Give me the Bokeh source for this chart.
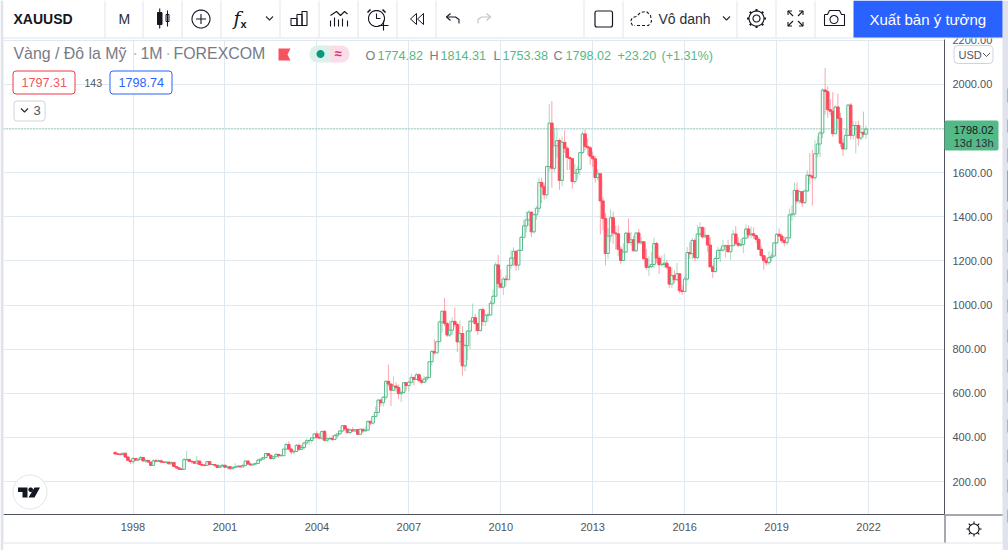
from bokeh.plotting import figure
from bokeh.models import FixedTicker, Span, Range1d
from bokeh.layouts import column
from bokeh.core.properties import value
from bokeh.embed import file_html
from bokeh.resources import INLINE
import math

# ---------- data (monthly candles, Jun 1997 .. Dec 2021) ----------
opens = [
 332,325,324,322,328,311,296,
 290,304,297,301,309,293,296,288,273,294,292,294,
 288,287,288,280,286,268,262,256,255,299,300,292,
 290,283,293,277,274,273,290,277,277,274,264,270,
 274,265,267,258,264,266,270,266,273,293,279,275,
 279,282,297,302,309,327,318,304,312,323,317,317,
 347,368,347,334,336,364,346,354,375,385,386,398,
 416,400,397,427,387,394,395,391,408,416,429,453,
 438,422,434,429,435,414,437,429,433,473,465,495,
 513,569,557,582,654,642,614,633,626,598,604,648,
 635,650,672,663,684,658,650,665,672,743,790,783,
 834,923,972,916,864,886,926,912,833,871,724,816,
 882,927,943,916,884,979,926,954,955,1008,1040,1182,
 1097,1081,1118,1115,1180,1213,1244,1181,1248,1307,1359,1386,
 1421,1332,1410,1439,1556,1536,1500,1628,1825,1620,1722,1746,
 1565,1738,1711,1669,1664,1560,1598,1615,1691,1776,1719,1713,
 1675,1663,1578,1595,1472,1393,1234,1313,1396,1327,1323,1253,
 1202,1240,1326,1284,1296,1246,1327,1282,1287,1210,1171,1175,
 1184,1279,1213,1183,1184,1190,1172,1095,1134,1115,1142,1065,
 1061,1118,1238,1233,1293,1215,1322,1351,1309,1316,1272,1173,
 1152,1211,1248,1249,1268,1269,1242,1269,1322,1280,1271,1275,
 1303,1345,1318,1323,1315,1298,1253,1224,1201,1192,1215,1222,
 1282,1321,1313,1292,1283,1305,1409,1413,1520,1472,1514,1464,
 1517,1589,1585,1577,1686,1730,1780,1975,1968,1886,1879,1777,
 1898,1847,1734,1708,1769,1907,1770,1814,1814,1757,1783,1774.82,
]
closes = [
 325,324,322,328,311,296,290,
 304,297,301,309,293,296,288,273,294,292,294,288,
 287,288,280,286,268,262,256,255,299,300,292,290,
 283,293,277,274,273,290,277,277,274,264,270,274,
 265,267,258,264,266,270,266,273,293,279,275,279,
 282,297,302,309,327,318,304,312,323,317,317,347,
 368,347,334,336,364,346,354,375,385,386,398,416,
 400,397,427,387,394,395,391,408,416,429,453,438,
 422,434,429,435,414,437,429,433,473,465,495,513,
 569,557,582,654,642,614,633,626,598,604,648,635,
 650,672,663,684,658,650,665,672,743,790,783,834,
 923,972,916,864,886,926,912,833,871,724,816,882,
 927,943,916,884,979,926,954,955,1008,1040,1182,1097,
 1081,1118,1115,1180,1213,1244,1181,1248,1307,1359,1386,1421,
 1332,1410,1439,1556,1536,1500,1628,1825,1620,1722,1746,1565,
 1738,1711,1669,1664,1560,1598,1615,1691,1776,1719,1713,1675,
 1663,1578,1595,1472,1393,1234,1313,1396,1327,1323,1253,1202,
 1240,1326,1284,1296,1246,1327,1282,1287,1210,1171,1175,1184,
 1279,1213,1183,1184,1190,1172,1095,1134,1115,1142,1065,1061,
 1118,1238,1233,1293,1215,1322,1351,1309,1316,1272,1173,1152,
 1211,1248,1249,1268,1269,1242,1269,1322,1280,1271,1275,1303,
 1345,1318,1323,1315,1298,1253,1224,1201,1192,1215,1222,1282,
 1321,1313,1292,1283,1305,1409,1413,1520,1472,1514,1464,1517,
 1589,1585,1577,1686,1730,1780,1975,1968,1886,1879,1777,1898,
 1847,1734,1708,1769,1907,1770,1814,1814,1757,1783,1774.82,1798.02,
]
highs = [
 335,330,330,332,330,315,298,
 310,305,303,316,310,301,298,289,301,303,300,299,
 293,292,290,292,289,268,264,261,307,339,300,293,
 292,316,293,290,278,292,291,280,278,274,272,277,
 272,268,269,268,283,275,270,278,294,293,285,280,
 285,303,304,311,328,330,324,315,330,325,325,349,
 376,382,352,342,370,373,366,376,395,392,399,417,
 428,421,431,434,398,403,410,415,418,432,455,457,
 430,440,446,437,437,441,432,448,477,475,497,540,
 575,575,587,660,730,640,676,650,640,611,649,650,
 655,690,670,692,690,672,680,677,745,795,845,838,
 930,975,1033,925,930,945,988,920,930,905,825,885,
 930,1007,960,920,985,990,960,965,1020,1070,1195,1227,
 1162,1128,1135,1180,1249,1262,1200,1252,1315,1388,1425,1431,
 1425,1412,1448,1576,1577,1552,1632,1911,1925,1804,1804,1755,
 1764,1792,1720,1674,1668,1640,1630,1695,1790,1796,1755,1722,
 1696,1675,1615,1597,1488,1417,1348,1433,1424,1361,1361,1268,
 1280,1332,1392,1332,1315,1326,1345,1310,1288,1255,1220,1239,
 1307,1287,1224,1225,1233,1205,1175,1170,1157,1191,1142,1089,
 1128,1263,1284,1304,1303,1362,1375,1358,1352,1318,1307,1182,
 1220,1264,1261,1295,1275,1296,1270,1340,1358,1306,1299,1307,
 1366,1361,1356,1352,1318,1309,1265,1219,1214,1243,1237,1284,
 1326,1347,1324,1310,1306,1438,1452,1555,1557,1518,1516,1524,
 1611,1689,1703,1747,1765,1789,1984,2075,1992,1933,1965,1906,
 1959,1872,1755,1798,1912,1916,1834,1833,1836,1814,1877,1814.31,
]
lows = [
 322,320,318,318,306,292,280,
 278,292,292,300,292,284,285,272,272,290,288,283,
 285,282,278,278,267,256,252,251,254,296,288,281,
 280,283,276,271,269,272,276,273,265,263,263,268,
 262,255,255,255,263,265,265,265,270,278,270,272,
 277,282,290,300,307,315,300,298,312,307,315,316,
 341,340,323,323,334,339,343,345,367,366,374,395,
 392,392,389,381,376,390,384,387,396,411,424,428,
 416,413,424,425,412,414,417,428,432,456,457,490,
 514,540,540,570,632,543,610,608,573,560,605,612,
 608,645,636,660,650,640,645,650,670,725,776,781,
 833,875,905,855,855,865,900,787,740,681,700,750,
 800,920,880,865,880,905,905,925,952,1000,1045,1075,
 1075,1045,1085,1113,1165,1175,1155,1158,1245,1315,1330,1359,
 1308,1325,1386,1420,1462,1478,1482,1605,1532,1604,1670,1523,
 1538,1690,1612,1613,1527,1550,1570,1590,1685,1700,1680,1636,
 1626,1555,1565,1321,1338,1180,1208,1285,1277,1251,1221,1187,
 1222,1238,1277,1268,1243,1241,1281,1274,1207,1160,1132,1167,
 1167,1190,1141,1176,1169,1162,1077,1077,1099,1108,1053,1046,
 1062,1111,1209,1208,1199,1208,1311,1301,1304,1241,1171,1123,
 1146,1214,1195,1240,1214,1236,1205,1269,1271,1262,1264,1236,
 1303,1303,1303,1301,1281,1250,1211,1160,1180,1182,1196,1221,
 1276,1310,1281,1266,1273,1300,1382,1400,1459,1459,1445,1459,
 1517,1548,1451,1567,1670,1671,1757,1863,1849,1860,1764,1777,
 1803,1717,1677,1707,1766,1750,1750,1688,1722,1746,1761,1753.38,
]
year_tick_pos = [7, 43, 79, 115, 151, 187, 223, 259, 295]
year_tick_lab = ["1998", "2001", "2004", "2007", "2010", "2013", "2016", "2019", "2022"]
price_ticks = [200, 400, 600, 800, 1000, 1200, 1400, 1600, 1800, 2000, 2200]
last_price = 1798.02

UP, DOWN = "#53b987", "#ff4a5e"
TXT, DARK, LINE, GRID = "#787b86", "#131722", "#e0e3eb", "#e1e9f0"
AXIS = "#50535e"
FONT = "Liberation Sans"

# ---------- chart ----------
PX_MONTH = 2.554
x_start = 7 - (132.5 - 3) / PX_MONTH
x_end = 7 + (944 - 132.5) / PX_MONTH
PX_USD = 0.22056
y_end = 2000 + (84 - 39) / PX_USD
y_start = 200 - (514 - 481) / PX_USD

p = figure(width=1008, height=550, x_range=Range1d(x_start, x_end), y_range=Range1d(y_start, y_end),
           output_backend="svg", toolbar_location=None, y_axis_location="right", frame_align=False,
           min_border_left=3, min_border_right=64, min_border_top=39, min_border_bottom=36)
p.outline_line_color = None
p.xaxis.ticker = FixedTicker(ticks=year_tick_pos)
p.xaxis.major_label_overrides = dict(zip(year_tick_pos, year_tick_lab))
p.yaxis.ticker = FixedTicker(ticks=price_ticks)
p.yaxis.major_label_overrides = {v: f"{v:.2f}" for v in price_ticks}
for ax in (p.xaxis, p.yaxis):
    ax.axis_line_color = AXIS
    ax.axis_line_width = 1
    ax.major_tick_line_color = None
    ax.minor_tick_line_color = None
    ax.major_tick_out = 0
    ax.major_tick_in = 0
    ax.major_label_text_font = FONT
    ax.major_label_text_font_size = "11px"
    ax.major_label_text_color = AXIS
p.yaxis.major_label_standoff = 8
p.xaxis.major_label_standoff = 8
p.xgrid.ticker = FixedTicker(ticks=year_tick_pos)
p.ygrid.ticker = FixedTicker(ticks=price_ticks)
p.grid.grid_line_color = GRID
p.grid.grid_line_width = 1

idx = list(range(len(closes)))
colors = [UP if closes[i] >= opens[i] else DOWN for i in idx]
fills = ["#ffffff" if closes[i] >= opens[i] else DOWN for i in idx]
p.segment(idx, lows, idx, highs, line_color=colors, line_alpha=0.5, line_width=1)
p.add_layout(Span(location=last_price, dimension="width", line_color=UP, line_dash="1 2", line_width=1))
p.vbar(idx, width=1.0, bottom=[min(a, b) for a, b in zip(opens, closes)], top=[max(a, b) for a, b in zip(opens, closes)],
       fill_color=fills, line_color=colors, line_width=1)

# ---------- interface chrome: transparent layer in page pixels ----------
c = figure(width=1008, height=550, x_range=Range1d(0, 1008), y_range=Range1d(550, 0),
           output_backend="svg", toolbar_location=None, min_border=0, frame_align=False,
           background_fill_color=None, border_fill_color=None,
           styles={"position": "absolute", "left": "0px", "top": "0px"})
c.axis.visible = False
c.grid.visible = False
c.outline_line_color = None

def box(l, r, t_, b, fill=None, line=None, radius=0, lw=1):
    c.quad(left=[l], right=[r], top=[t_], bottom=[b], fill_color=fill, fill_alpha=1 if fill else 0,
           line_color=line, line_alpha=1 if line else 0, line_width=lw, border_radius=radius)

def t(x, y, s, size="14px", color=DARK, style="normal", align="left", font=FONT):
    c.text(x=[x], y=[y], text=[s], text_font=value(font), text_font_size=value(size), text_color=color,
           text_font_style=style, text_align=align, text_baseline="middle")

def pl(xs, ys, w=1.1, col=DARK, dash="solid"):
    c.line(xs, ys, line_color=col, line_width=w, line_dash=dash)

def poly(xs, ys, fill=None, line=None, lw=1):
    c.patch(xs, ys, fill_color=fill, fill_alpha=1 if fill else 0, line_color=line, line_alpha=1 if line else 0, line_width=lw)

def circ(cx, cy, r, n=40):
    a = [2 * math.pi * i / n for i in range(n + 1)]
    return [cx + r * math.cos(v) for v in a], [cy + r * math.sin(v) for v in a]

def chev(cx, cy, col="#2a2e39", w=1.1):
    pl([cx - 3.5, cx, cx + 3.5], [cy - 2, cy + 1.5, cy - 2], w, col)

# page strips and frame lines
box(0, 3, 0, 550, "#e0e3eb")
box(1002, 1008, 0, 550, "#e0e3eb")
box(3, 1002, 0, 37, "#ffffff")
box(3, 1002, 37, 38, LINE)
box(3, 1002, 543, 550, "#ffffff")
box(3, 1002, 542, 543, LINE)
box(945, 1002, 514, 515, AXIS)
box(944, 945, 514, 542, AXIS)
for a_, b_ in [(88, 102), (119, 132), (148, 162), (209, 222), (239, 252), (269, 282), (299, 312), (329, 342),
               (359, 372), (389, 402), (419, 432), (449, 462), (479, 492), (509, 522)]:
    box(1007, 1008, a_, b_, "#f7525f")
box(1007, 1008, 170, 201, "#2962ff")

# toolbar
box(853, 1002, 0, 37, "#2962ff")
for s_ in [104, 142, 181, 220, 279, 318, 357, 396, 435, 583, 622, 736, 775, 814]:
    box(s_, s_ + 1, 0, 37, LINE)
t(13, 18.5, "XAUUSD", "14px", DARK, "bold")
t(118, 18.5, "M", "14px", "#2a2e39")
t(658, 18, "Vô danh", "14px", "#2a2e39")
t(869, 19, "Xuất bản ý tưởng", "15px", "#ffffff")
t(233, 17, "f", "19px", DARK, "italic", font="DejaVu Serif")
t(240, 23, "x", "11px", DARK, "bold")
# candle icon
box(157, 161.5, 12, 24, DARK, DARK)
box(165.5, 168.5, 14, 21, "#ffffff", DARK)
pl([159.2, 159.2], [8, 28]); pl([167, 167], [10, 26])
# circled plus
pl(*circ(200.5, 18.5, 9)); pl([195.5, 205.5], [18.5, 18.5]); pl([200.5, 200.5], [13.5, 23.5])
chev(269, 18)
# bars
pl([290.5, 290.5, 296.5, 296.5, 290.5], [25, 18, 18, 25, 25]); pl([296.5, 296.5, 301.5, 301.5, 296.5], [25, 14, 14, 25, 25])
pl([301.5, 301.5, 306.5, 306.5, 301.5], [25, 11, 11, 25, 25])
# indicators
pl([330, 336, 340, 344, 347], [15, 11, 15, 11, 13.5])
for x_, y_ in zip([330, 334, 338, 342, 347], [20, 17, 19, 18, 20]):
    pl([x_, x_], [y_, 26])
# alarm
pl(*circ(376, 18, 8)); pl([376, 376, 380], [13, 18, 18]); pl([367, 370], [12, 9], 1.6); pl([382, 385], [9, 12], 1.6)
pl([378, 388], [25, 25]); pl([383, 383], [20, 30])
# rewind
pl([416, 410, 416, 416], [13, 18.5, 24, 13], 1); pl([423, 417, 423, 423], [13, 18.5, 24, 13], 1)
# undo / redo
pl([450, 446, 450], [13, 16.5, 20]); pl([446, 455, 458.5, 458.5], [16.5, 16.5, 19, 23])
pl([486, 490, 486], [13, 16.5, 20], 1.1, "#c1c4cd"); pl([490, 481, 477.5, 477.5], [16.5, 16.5, 19, 23], 1.1, "#c1c4cd")
# square
box(594.5, 612, 10.5, 26.5, "#ffffff", DARK, 2, 1.2)
# cloud
pl([632, 630, 632, 636, 640, 646, 650, 651, 648, 634], [25, 21, 17, 16, 12, 11, 15, 21, 25, 25], 1.1, DARK, "3 2")
chev(726, 18)
# gear
pl(*circ(756, 18, 3.5))
pl(*circ(756, 18, 7.5, 32), 1.1)
for i in range(8):
    a = i * math.pi / 4
    pl([756 + 7.5 * math.cos(a), 756 + 9.5 * math.cos(a)], [18 + 7.5 * math.sin(a), 18 + 9.5 * math.sin(a)], 2)
# fullscreen
for sx, sy in [(-1, -1), (1, -1), (-1, 1), (1, 1)]:
    cx, cy = 795 + sx * 7.5, 18 + sy * 7.5
    pl([cx - sx * 4, cx, cx], [cy, cy, cy - sy * 4])
    pl([cx, cx - sx * 5], [cy, cy - sy * 5])
# camera
pl([824, 827, 829, 839, 841, 844, 844, 824, 824], [14, 14, 10, 10, 14, 14, 25, 25, 14])
pl(*circ(833.5, 19, 4))

# last price tag
box(944, 998, 120, 150, UP, None, 2)
t(993, 129, "1798.02", "11px", DARK, align="right")
t(993, 142, "13d 13h", "11px", "#2a2e39", align="right")
# USD button
box(953.5, 992.5, 45, 63, "#ffffff", "#d1d4dc", 4)
t(958, 54, "USD", "11px", AXIS)
chev(986, 54.5, AXIS, 1)

# legend
t(13, 53, "Vàng / Đô la Mỹ", "15.9px", TXT)
t(132, 53, "·", "15.9px", "#b2b5be")
t(140, 53, "1M", "15.9px", TXT)
t(165, 53, "·", "15.9px", "#b2b5be")
t(173, 53, "FOREXCOM", "15.9px", TXT)
poly([278, 290, 287, 290, 278], [48, 48, 54, 60, 60], "#f7525f")
box(309, 329, 45, 62, "#dbf1ec", None, 8)
box(329, 349, 45, 62, "#fbdde8", None, 8)
box(322, 329, 45, 62, "#dbf1ec")
box(329, 336, 45, 62, "#fbdde8")
poly(*circ(320, 53.5, 4), "#089981")
t(334, 53, "≈", "13px", "#cc2f7c", "bold")
for x_, s_, c_ in [(365, "O", TXT), (377, "1774.82", UP), (429, "H", TXT), (440, "1814.31", UP), (493, "L", TXT),
                   (502, "1753.38", UP), (553, "C", TXT), (565, "1798.02", UP), (617, "+23.20", UP), (661, "(+1.31%)", UP)]:
    t(x_, 55, s_, "12.6px", c_)
box(12.5, 74.5, 70.5, 93.5, "#ffffff", "#f23645", 3)
t(21, 82, "1797.31", "12.6px", "#f7525f")
t(84, 82, "143", "10.5px", AXIS)
box(109.5, 171.5, 70.5, 93.5, "#ffffff", "#2962ff", 3)
t(118, 82, "1798.74", "12.6px", "#2962ff")
box(13.5, 44.5, 100.5, 120.5, "#ffffff", "#d1d4dc", 3)
chev(24, 110, "#2a2e39", 1.2)
t(33, 110, "3", "13px", AXIS)

# logo badge
poly(*circ(29.5, 491.5, 17), "#ffffff", "#e0e3eb")
poly([17.5, 27, 27, 22, 22, 17.5], [487, 487, 497, 497, 491.5, 491.5], DARK)
poly(*circ(30.2, 489.2, 2.3), DARK)
poly([34, 39.5, 34, 28], [487, 487, 497, 497], DARK)

# sun
pl(*circ(973.5, 528.5, 5), 1.1)
for i in range(8):
    a = i * math.pi / 4
    pl([973.5 + 5 * math.cos(a), 973.5 + 7.5 * math.cos(a)], [528.5 + 5 * math.sin(a), 528.5 + 7.5 * math.sin(a)], 1.1)

layout = column(p, c, spacing=0, styles={"position": "absolute", "left": "0px", "top": "0px"})
open("out.html", "w").write(file_html(layout, INLINE))
